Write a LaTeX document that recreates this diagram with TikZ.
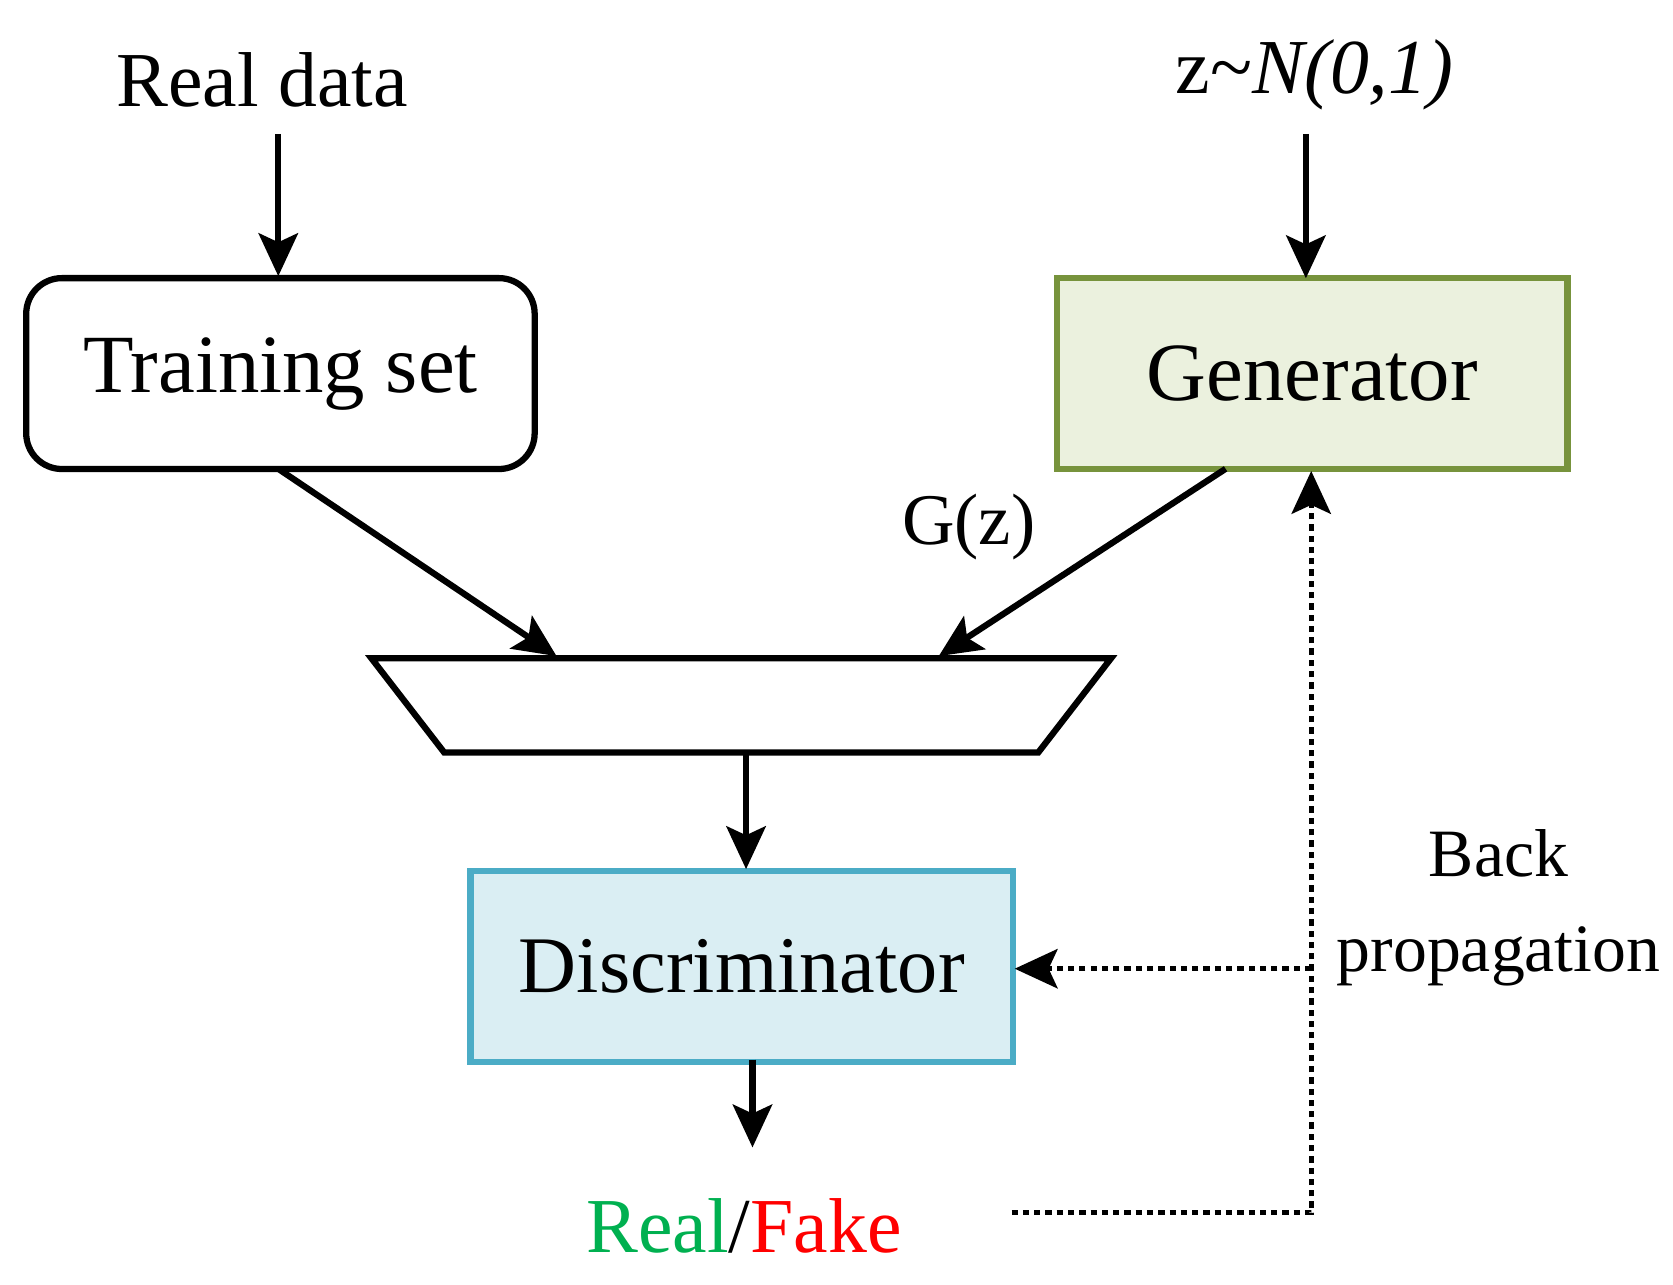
\documentclass[tikz,border=0pt]{standalone}
\usepackage{fontspec}
\setmainfont{Liberation Serif}
\usetikzlibrary{arrows.meta}
\definecolor{gfill}{HTML}{EBF1DE}
\definecolor{gdraw}{HTML}{77933C}
\definecolor{dfill}{HTML}{DAEEF3}
\definecolor{ddraw}{HTML}{4BACC6}
\definecolor{rgreen}{HTML}{00B050}
\begin{document}
\begin{tikzpicture}[x=0.03cm,y=-0.03cm,
  ln/.style={line width=5pt,-{Stealth[length=1.2cm,width=1.1cm,inset=0.25cm]}},
  dl/.style={line width=4pt,dash pattern=on 5pt off 4pt,-{Stealth[length=1.2cm,width=1.1cm,inset=0.25cm]}},
  box/.style={line width=5pt,minimum width=14.3cm,minimum height=5.35cm,inner sep=0}]
\useasboundingbox (0,0) rectangle (1563,1200);
\node[box,draw,rounded corners=1cm,minimum width=14.25cm] (ts) at (262,349) {\fontsize{66}{70}\selectfont Training set};
\node[box,draw=gdraw,fill=gfill] (gen) at (1226,349) {\fontsize{66}{70}\selectfont Generator};
\node[box,draw=ddraw,fill=dfill,minimum width=15.2cm] (dis) at (693,903) {\fontsize{64}{70}\selectfont Discriminator};
\node (rd) at (245,75) {\fontsize{62}{70}\selectfont Real data};
\node (z) at (1228,70) {\fontsize{62}{70}\selectfont z\textasciitilde\textit{N(0,1)}};
\node (gz) at (905,492) {\fontsize{58}{70}\selectfont G(z)};
\node (rf) at (695,1145) {\fontsize{62}{70}\selectfont\textcolor{rgreen}{Real}/\textcolor{red}{Fake}};
\node[align=center,font=\fontsize{54}{76}\selectfont] (bp) at (1400,848) {Back\\propagation};
\draw[line width=5pt] (347,615) coordinate (t1) -- (1038,615) coordinate (t2) -- (970,703) coordinate (t3) -- (415,703) coordinate (t4) -- cycle;
\coordinate (a0) at (260,125); \coordinate (a1) at (260,258);
\coordinate (b0) at (1220,125); \coordinate (b1) at (1220,260);
\coordinate (c0) at (260,438); \coordinate (c1) at (520,613);
\coordinate (d0) at (1145,438); \coordinate (d1) at (877,613);
\coordinate (e0) at (697,703); \coordinate (e1) at (697,812);
\coordinate (f0) at (703,990); \coordinate (f1) at (703,1072);
\coordinate (g0) at (945,1133); \coordinate (g1) at (1225,1133); \coordinate (g2) at (1225,440);
\coordinate (h0) at (1225,905); \coordinate (h1) at (948,905);
\draw[ln] (a0) -- (a1);
\draw[ln] (b0) -- (b1);
\draw[ln] (c0) -- (c1);
\draw[ln] (d0) -- (d1);
\draw[ln] (e0) -- (e1);
\draw[ln] (f0) -- (f1);
\draw[dl] (g0) -- (g1) -- (g2);
\draw[dl] (h0) -- (h1);
\end{tikzpicture}
\end{document}
